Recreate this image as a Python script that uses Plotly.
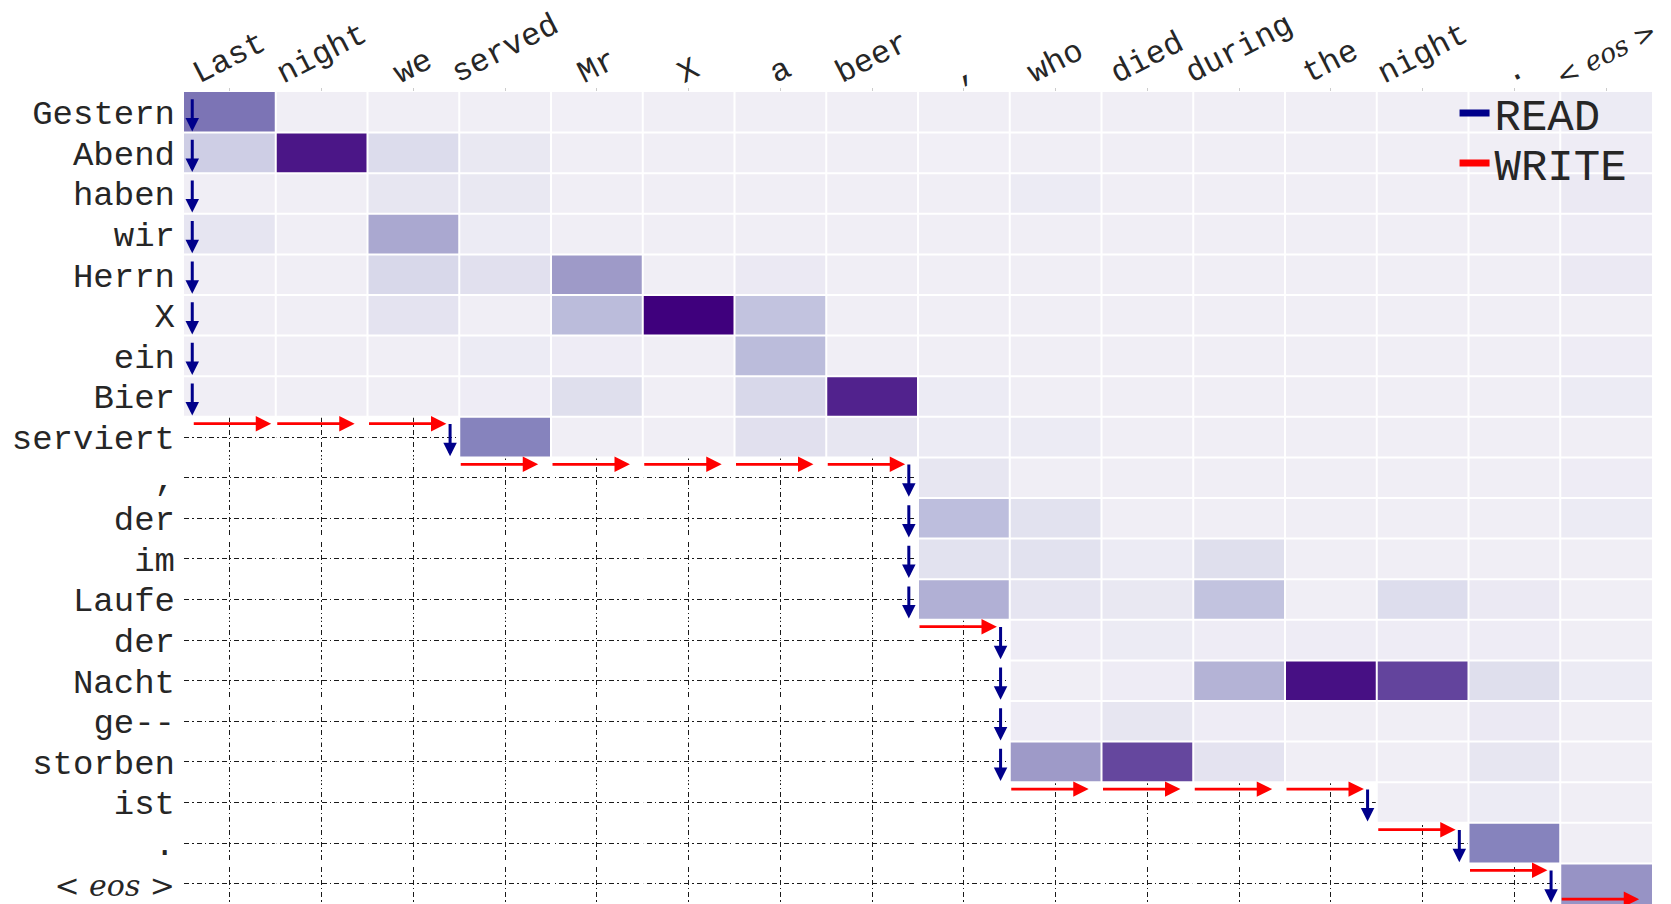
import plotly.graph_objects as go

# ---------------- data ----------------
src_tokens = ["Last", "night", "we", "served", "Mr", "X", "a", "beer", ",",
              "who", "died", "during", "the", "night", ".", "<eos>"]
tgt_tokens = ["Gestern", "Abend", "haben", "wir", "Herrn", "X", "ein", "Bier",
              "serviert", ",", "der", "im", "Laufe", "der", "Nacht", "ge--",
              "storben", "ist", ".", "<eos>"]

N = None
attention = [
    [0.65, 0.12, 0.12, 0.12, 0.11, 0.12, 0.12, 0.12, 0.12, 0.12, 0.12, 0.12, 0.12, 0.12, 0.12, 0.14],
    [0.30, 0.93, 0.24, 0.16, 0.12, 0.12, 0.12, 0.12, 0.11, 0.12, 0.12, 0.12, 0.12, 0.12, 0.12, 0.13],
    [0.12, 0.12, 0.17, 0.16, 0.12, 0.12, 0.12, 0.12, 0.12, 0.14, 0.12, 0.12, 0.12, 0.12, 0.12, 0.15],
    [0.18, 0.12, 0.45, 0.14, 0.12, 0.12, 0.12, 0.12, 0.12, 0.12, 0.12, 0.12, 0.12, 0.12, 0.12, 0.13],
    [0.12, 0.12, 0.26, 0.21, 0.50, 0.12, 0.15, 0.12, 0.12, 0.12, 0.12, 0.12, 0.12, 0.12, 0.12, 0.15],
    [0.12, 0.12, 0.19, 0.12, 0.38, 1.00, 0.35, 0.12, 0.12, 0.12, 0.12, 0.12, 0.12, 0.12, 0.12, 0.12],
    [0.12, 0.12, 0.12, 0.14, 0.13, 0.12, 0.38, 0.12, 0.12, 0.12, 0.12, 0.12, 0.12, 0.12, 0.12, 0.13],
    [0.12, 0.12, 0.12, 0.13, 0.22, 0.12, 0.26, 0.89, 0.14, 0.12, 0.12, 0.12, 0.12, 0.12, 0.12, 0.14],
    [N, N, N, 0.60, 0.12, 0.12, 0.21, 0.17, 0.14, 0.14, 0.12, 0.12, 0.12, 0.12, 0.12, 0.12],
    [N, N, N, N, N, N, N, N, 0.17, 0.12, 0.12, 0.12, 0.12, 0.12, 0.12, 0.13],
    [N, N, N, N, N, N, N, N, 0.37, 0.20, 0.12, 0.12, 0.12, 0.12, 0.12, 0.14],
    [N, N, N, N, N, N, N, N, 0.20, 0.20, 0.14, 0.22, 0.12, 0.12, 0.12, 0.12],
    [N, N, N, N, N, N, N, N, 0.42, 0.18, 0.16, 0.35, 0.12, 0.23, 0.15, 0.12],
    [N, N, N, N, N, N, N, N, N, 0.13, 0.14, 0.13, 0.13, 0.13, 0.13, 0.12],
    [N, N, N, N, N, N, N, N, N, 0.12, 0.13, 0.41, 0.95, 0.79, 0.22, 0.14],
    [N, N, N, N, N, N, N, N, N, 0.13, 0.17, 0.13, 0.12, 0.12, 0.15, 0.12],
    [N, N, N, N, N, N, N, N, N, 0.50, 0.78, 0.19, 0.12, 0.12, 0.17, 0.12],
    [N, N, N, N, N, N, N, N, N, N, N, N, N, 0.12, 0.14, 0.12],
    [N, N, N, N, N, N, N, N, N, N, N, N, N, N, 0.60, 0.12],
    [N, N, N, N, N, N, N, N, N, N, N, N, N, N, N, 0.53],
]

actions = (["READ"] * 8 + ["WRITE"] * 3 + ["READ"] + ["WRITE"] * 5 +
           ["READ"] * 4 + ["WRITE"] + ["READ"] * 4 + ["WRITE"] * 4 +
           ["READ", "WRITE", "READ", "WRITE", "READ", "WRITE"])

# ---------------- style ----------------
FONT = "Liberation Mono, Courier New, monospace"
TEXT_COLOR = "#262626"
READ_COLOR = "#00008b"
WRITE_COLOR = "#ff0000"
GRID_DASH = "5px,3px,1.5px,3px"
purples = [[0.0, "#fcfbfd"], [0.125, "#efedf5"], [0.25, "#dadaeb"],
           [0.375, "#bcbddc"], [0.5, "#9e9ac8"], [0.625, "#807dba"],
           [0.75, "#6a51a3"], [0.875, "#54278f"], [1.0, "#3f007d"]]

# the page body has an 8px margin, so the figure is sized to fit the window
PAGE_OFF = 8
W, H = 1671 - PAGE_OFF, 904 - PAGE_OFF
M_L, M_R, M_T, M_B = 184.4 - PAGE_OFF, 19.2, 91.6 - PAGE_OFF, 0
plot_h = H - M_T - M_B


def label(tok, size=34):
    if tok == "<eos>":
        return ("<span style='font-family:DejaVu Serif;font-size:%dpx'>"
                "&lt; <i>eos</i> &gt;</span>" % size)
    return tok


n_rows, n_cols = len(tgt_tokens), len(src_tokens)
xs = list(range(n_cols))
ys = list(range(n_rows))

fig = go.Figure()
fig.add_trace(go.Heatmap(
    z=attention, x=xs, y=ys, colorscale=purples, zmin=0, zmax=1,
    showscale=False, hoverongaps=False, showlegend=False,
))

# legend entries (one legend box each, for tight spacing)
fig.add_trace(go.Scatter(x=[None], y=[None], mode="lines", name="READ",
                         legend="legend", showlegend=True,
                         line=dict(color=READ_COLOR, width=7)))
fig.add_trace(go.Scatter(x=[None], y=[None], mode="lines", name="WRITE",
                         legend="legend2", showlegend=True,
                         line=dict(color=WRITE_COLOR, width=7)))

annotations = []
# source-token labels on top, rotated
for j, tok in enumerate(src_tokens):
    annotations.append(dict(
        x=j, y=1, xref="x", yref="paper", text=label(tok, 27), showarrow=False,
        xanchor="center", yanchor="bottom", textangle=-27, yshift=-3,
        font=dict(family=FONT, size=32, color=TEXT_COLOR)))

# READ / WRITE path arrows
r = c = 0
for a in actions:
    if a == "READ":
        x = max(c - 0.6, -0.41)
        annotations.append(dict(
            x=x, y=r + 0.47, ax=x, ay=r - 0.36, xref="x", yref="y",
            axref="x", ayref="y", text="", showarrow=True, arrowhead=2,
            arrowsize=0.9, arrowwidth=3, arrowcolor=READ_COLOR, standoff=0))
        r += 1
    else:
        y = min(r - 1 + 0.67, n_rows - 0.62)
        x0 = max(c - 0.5, -0.41)
        annotations.append(dict(
            x=x0 + 0.86, y=y, ax=x0, ay=y, xref="x", yref="y",
            axref="x", ayref="y", text="", showarrow=True, arrowhead=2,
            arrowsize=1.1, arrowwidth=2.8, arrowcolor=WRITE_COLOR, standoff=0))
        c += 1

# white separators between cells
shapes = []
for k in range(1, n_cols):
    shapes.append(dict(type="line", xref="x", yref="y", x0=k - 0.5, x1=k - 0.5,
                       y0=-0.5, y1=n_rows - 0.5, layer="above",
                       line=dict(color="white", width=2)))
for k in range(1, n_rows):
    shapes.append(dict(type="line", xref="x", yref="y", x0=-0.5, x1=n_cols - 0.5,
                       y0=k - 0.5, y1=k - 0.5, layer="above",
                       line=dict(color="white", width=2)))

legend_style = dict(xanchor="left", yanchor="middle", bgcolor="rgba(0,0,0,0)",
                    font=dict(family=FONT, size=44, color=TEXT_COLOR))

fig.update_layout(
    width=W, height=H,
    margin=dict(l=M_L, r=M_R, t=M_T, b=M_B, autoexpand=False),
    plot_bgcolor="white", paper_bgcolor="white",
    showlegend=True,
    annotations=annotations, shapes=shapes,
    legend=dict(x=0.8655, y=1 - (105 - M_T) / plot_h, **legend_style),
    legend2=dict(x=0.8655, y=1 - (155 - M_T) / plot_h, **legend_style),
    xaxis=dict(range=[-0.5, n_cols - 0.5], side="top", tickvals=xs,
               showticklabels=False, ticks="outside", ticklen=3,
               tickcolor="#cccccc", showgrid=True, gridcolor="#1a1a1a",
               gridwidth=1, griddash=GRID_DASH, zeroline=False,
               showline=False, automargin=False),
    yaxis=dict(range=[n_rows - 0.5, -0.5], tickvals=ys,
               ticktext=[label(t, 30) for t in tgt_tokens], ticks="",
               ticklabelstandoff=8,
               tickfont=dict(family=FONT, size=34, color=TEXT_COLOR),
               showgrid=True, gridcolor="#1a1a1a", gridwidth=1,
               griddash=GRID_DASH, zeroline=False, showline=False,
               automargin=False),
)

fig.write_html("out.html")
